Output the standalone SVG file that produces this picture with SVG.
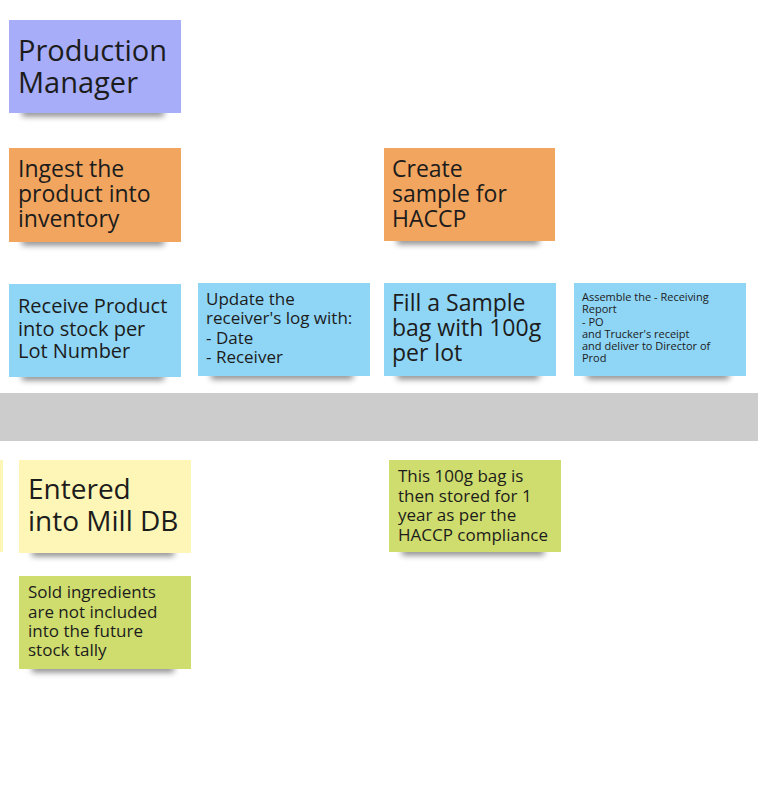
<svg xmlns="http://www.w3.org/2000/svg" width="758" height="796" viewBox="0 0 758 796">
<defs>
<filter id="sh" x="-20%" y="-100%" width="140%" height="300%"><feGaussianBlur stdDeviation="3"/></filter>
</defs>
<style>
text{font-family:"Open Sans","Noto Sans",sans-serif;fill:#1c1c1c}
.shadow{fill:#000;opacity:0.5;filter:url(#sh)}
.p{fill:#a7adf8}.o{fill:#f1a55f}.b{fill:#8fd5f5}.y{fill:#fdf6b6}.g{fill:#cfdd6e}
</style>
<rect x="0" y="0" width="758" height="796" fill="#ffffff"/>
<rect id="band" x="0" y="393" width="758" height="48" fill="#cccccc"/>

<g id="pm">
<rect class="shadow" x="22" y="109" width="142" height="7"/>
<rect class="p" x="9" y="20" width="172" height="93"/>
<text font-size="29"><tspan x="18" y="61">Production</tspan><tspan x="18" y="93">Manager</tspan></text>
</g>

<g id="ingest">
<rect class="shadow" x="22" y="238" width="142" height="7"/>
<rect class="o" x="9" y="148" width="172" height="94"/>
<text font-size="23"><tspan x="18" y="177">Ingest the</tspan><tspan x="18" y="202">product into</tspan><tspan x="18" y="227">inventory</tspan></text>
</g>

<g id="create">
<rect class="shadow" x="397" y="237" width="142" height="7"/>
<rect class="o" x="384" y="148" width="171" height="93"/>
<text font-size="23"><tspan x="392" y="177">Create</tspan><tspan x="392" y="202">sample for</tspan><tspan x="392" y="227">HACCP</tspan></text>
</g>

<g id="receive">
<rect class="shadow" x="22" y="373" width="142" height="7"/>
<rect class="b" x="9" y="284" width="172" height="93"/>
<text font-size="20"><tspan x="18" y="313">Receive Product</tspan><tspan x="18" y="336">into stock per</tspan><tspan x="18" y="358">Lot Number</tspan></text>
</g>

<g id="update">
<rect class="shadow" x="211" y="372" width="142" height="7"/>
<rect class="b" x="198" y="283" width="172" height="93"/>
<text font-size="17"><tspan x="206" y="305">Update the</tspan><tspan x="206" y="324">receiver's log with:</tspan><tspan x="206" y="344">- Date</tspan><tspan x="206" y="363">- Receiver</tspan></text>
</g>

<g id="fill">
<rect class="shadow" x="397" y="372" width="142" height="7"/>
<rect class="b" x="384" y="283" width="172" height="93"/>
<text font-size="23"><tspan x="392" y="311">Fill a Sample</tspan><tspan x="392" y="336">bag with 100g</tspan><tspan x="392" y="361">per lot</tspan></text>
</g>

<g id="assemble">
<rect class="shadow" x="587" y="372" width="142" height="7"/>
<rect class="b" x="574" y="283" width="172" height="93"/>
<text font-size="11"><tspan x="582" y="301">Assemble the - Receiving</tspan><tspan x="582" y="313">Report</tspan><tspan x="582" y="326">- PO</tspan><tspan x="582" y="338">and Trucker's receipt</tspan><tspan x="582" y="350">and deliver to Director of</tspan><tspan x="582" y="362">Prod</tspan></text>
</g>

<g id="partial">
<rect class="y" x="0" y="460" width="3" height="92"/>
</g>

<g id="entered">
<rect class="shadow" x="32" y="549" width="142" height="7"/>
<rect class="y" x="19" y="460" width="172" height="93"/>
<text font-size="28"><tspan x="28" y="499">Entered</tspan><tspan x="28" y="531">into Mill DB</tspan></text>
</g>

<g id="stored">
<rect class="shadow" x="402" y="548" width="142" height="7"/>
<rect class="g" x="389" y="460" width="172" height="92"/>
<text font-size="17"><tspan x="398" y="482">This 100g bag is</tspan><tspan x="398" y="502">then stored for 1</tspan><tspan x="398" y="521">year as per the</tspan><tspan x="398" y="541">HACCP compliance</tspan></text>
</g>

<g id="sold">
<rect class="shadow" x="32" y="665" width="142" height="7"/>
<rect class="g" x="19" y="576" width="172" height="93"/>
<text font-size="17"><tspan x="28" y="598">Sold ingredients</tspan><tspan x="28" y="618">are not included</tspan><tspan x="28" y="637">into the future</tspan><tspan x="28" y="656">stock tally</tspan></text>
</g>

<g id="connectors"></g>
</svg>
